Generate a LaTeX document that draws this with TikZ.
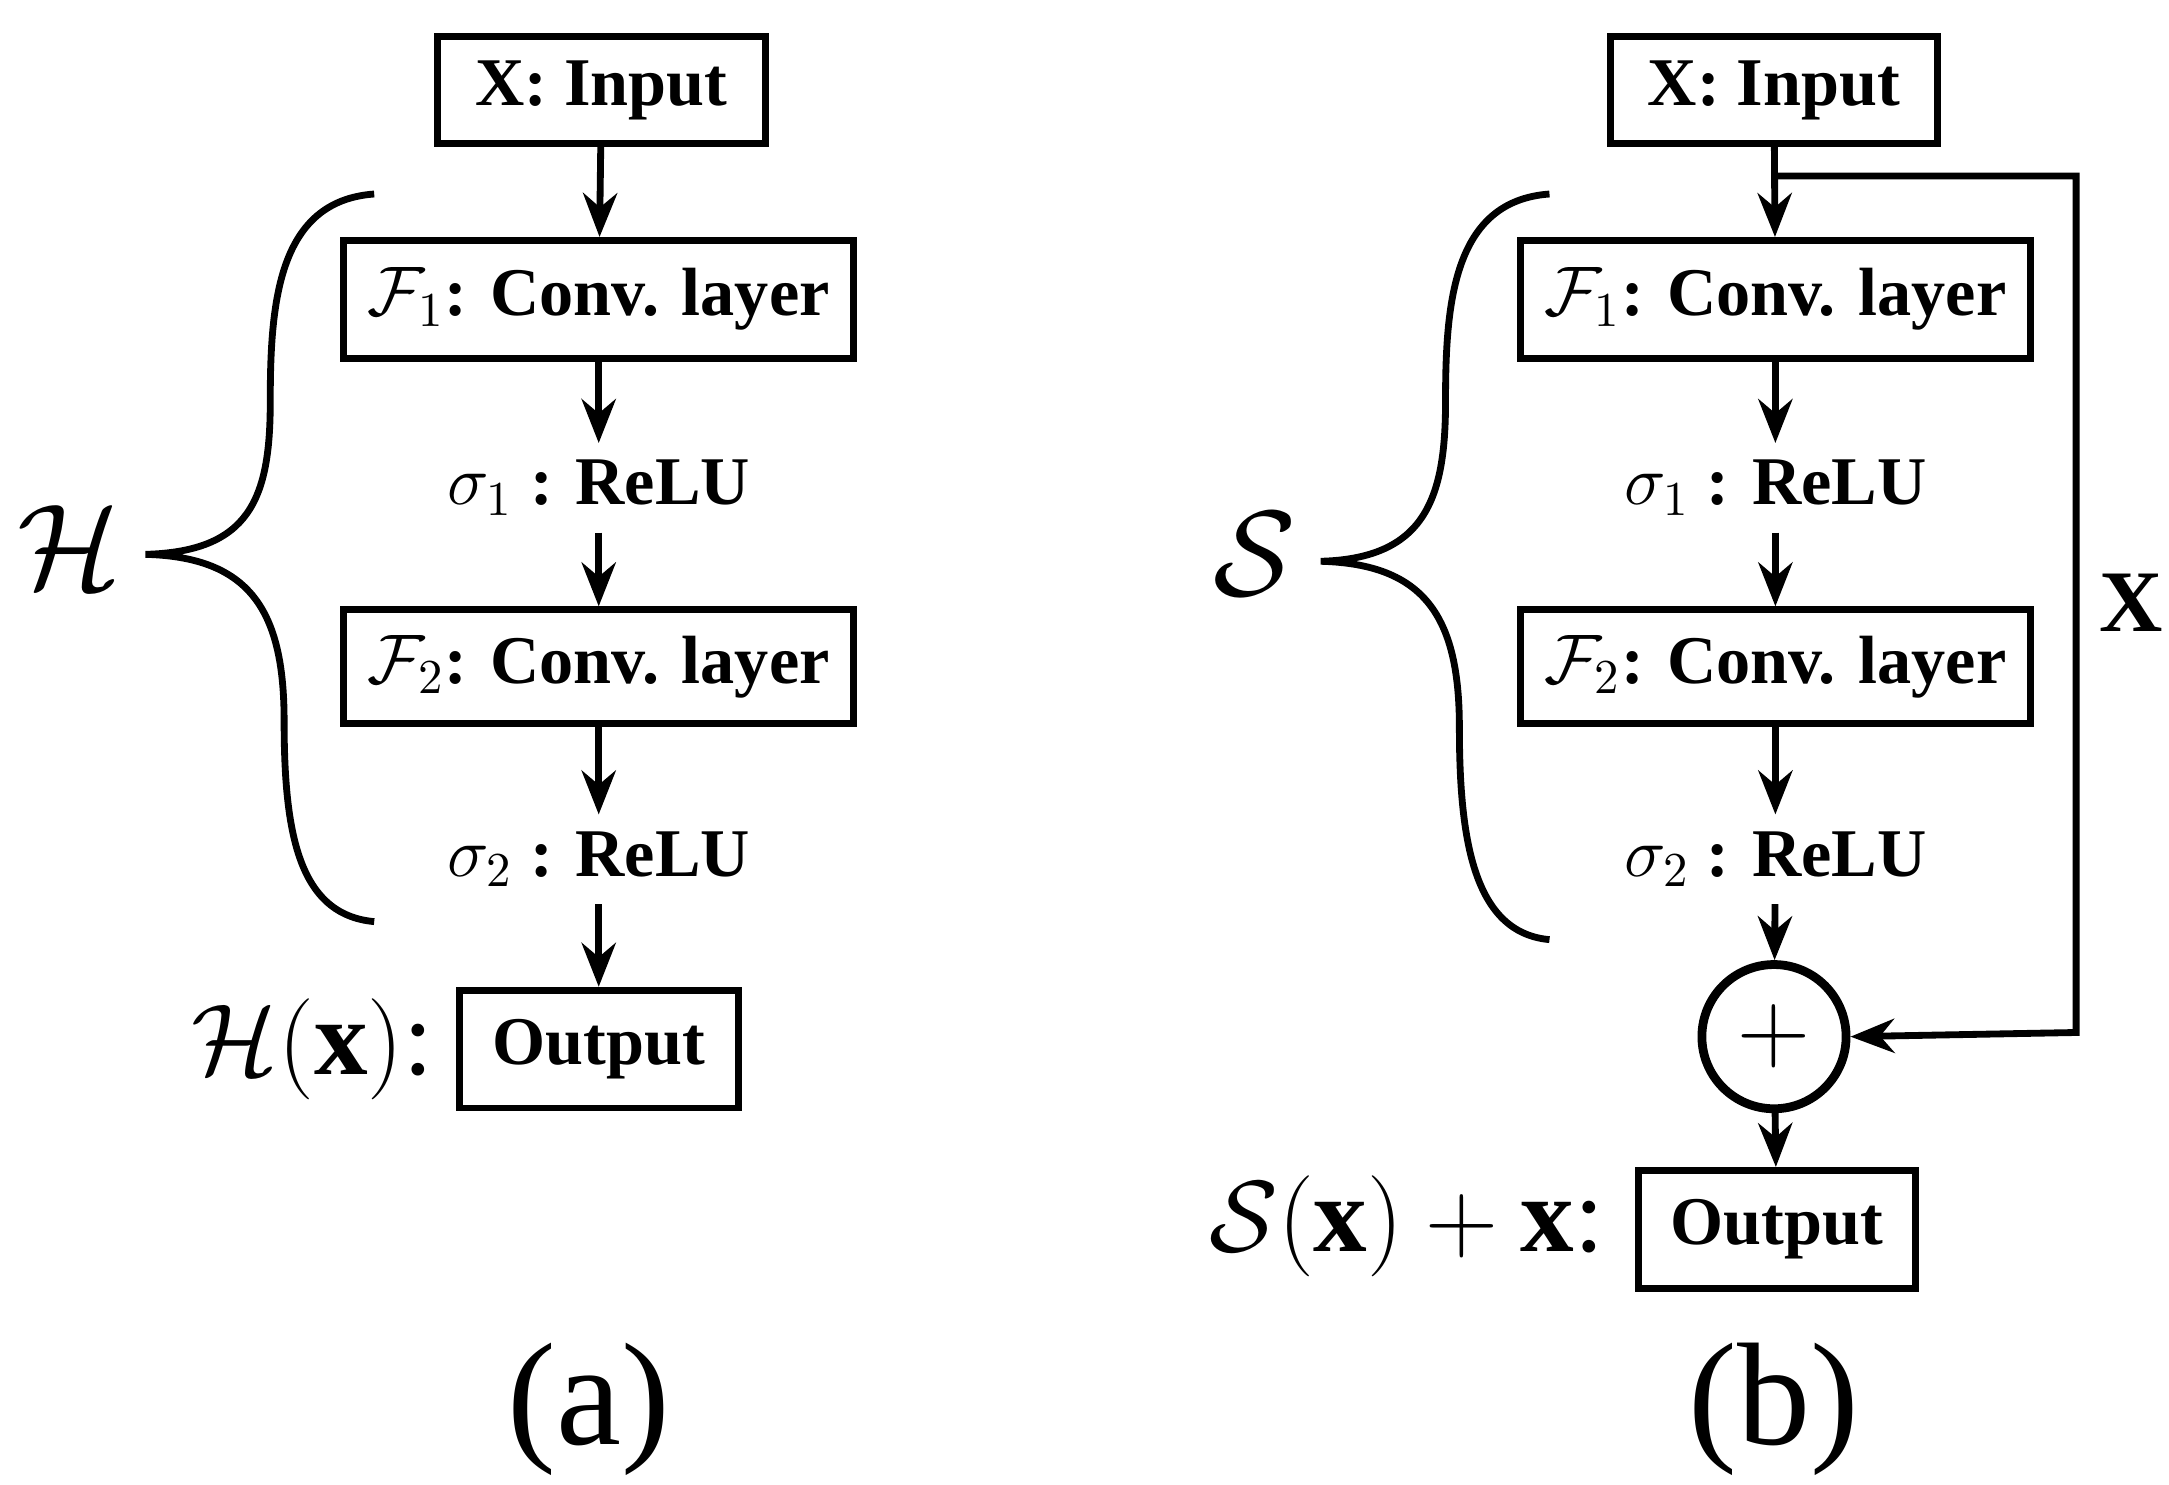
\documentclass[tikz,border=0pt]{standalone}
\usepackage{fontspec}
\setmainfont{Liberation Serif}
\usetikzlibrary{arrows.meta}
\begin{document}
\begin{tikzpicture}[x=0.01cm,y=-0.01cm,
  box/.style={draw,line width=1.4pt,inner sep=0pt,font=\fontsize{14}{16}\selectfont\bfseries},
  lbl/.style={font=\fontsize{14}{16}\selectfont\bfseries},
  arr/.style={-{Stealth[length=9pt,width=7pt]},line width=1.4pt},
  brace/.style={line width=1.4pt},
  subcap/.style={font=\fontsize{30}{34}\selectfont}]
\useasboundingbox (0,0) rectangle (1565,1071);
% (a)
\node[box,minimum width=2.36cm,minimum height=0.77cm] (ain) at (434,65) {X: Input};
\node[box,minimum width=3.68cm,minimum height=0.85cm] (ac1) at (432,216) {$\mathcal{F}_1$: Conv. layer};
\node[lbl] (as1) at (432,352) {$\sigma_1$ : ReLU};
\node[box,minimum width=3.68cm,minimum height=0.82cm] (ac2) at (432,481) {$\mathcal{F}_2$: Conv. layer};
\node[lbl] (as2) at (432,620) {$\sigma_2$ : ReLU};
\node[box,minimum width=2.01cm,minimum height=0.85cm] (aout) at (432,757) {Output};
\node[font=\fontsize{22}{24}\selectfont,anchor=east] (ah) at (325,757) {$\mathcal{H}(\mathbf{x})$:};
\node[font=\fontsize{24}{26}\selectfont] (aH) at (50,395) {$\mathcal{H}$};
\node[subcap] (acap) at (425,1017) {(a)};
\draw[arr] (ain) -- (ac1);
\draw[arr] (ac1) -- (as1);
\draw[arr] (as1) -- (ac2);
\draw[arr] (ac2) -- (as2);
\draw[arr] (as2) -- (aout);
\draw[brace] (270,140) .. controls (200,145) and (195,220) .. (195,290)
  .. controls (195,360) and (180,398) .. (105,400)
  .. controls (180,402) and (205,440) .. (205,520)
  .. controls (205,600) and (215,660) .. (270,665);
% (b)
\node[box,minimum width=2.36cm,minimum height=0.77cm] (bin) at (1280,65) {X: Input};
\node[box,minimum width=3.68cm,minimum height=0.85cm] (bc1) at (1281,216) {$\mathcal{F}_1$: Conv. layer};
\node[lbl] (bs1) at (1281,352) {$\sigma_1$ : ReLU};
\node[box,minimum width=3.68cm,minimum height=0.82cm] (bc2) at (1281,481) {$\mathcal{F}_2$: Conv. layer};
\node[lbl] (bs2) at (1281,620) {$\sigma_2$ : ReLU};
\node[draw,circle,line width=1.8pt,minimum size=1.04cm,inner sep=0pt,font=\fontsize{22}{24}\selectfont] (plus) at (1280,748) {$+$};
\node[box,minimum width=2.0cm,minimum height=0.85cm] (bout) at (1282,887) {Output};
\node[font=\fontsize{22}{24}\selectfont,anchor=east] (bs) at (1170,885) {$\mathcal{S}(\mathbf{x})+\mathbf{x}$:};
\node[font=\fontsize{24}{26}\selectfont] (bS) at (905,400) {$\mathcal{S}$};
\node[font=\fontsize{18}{20}\selectfont\bfseries] (bx) at (1538,435) {X};
\node[subcap] (bcap) at (1280,1017) {(b)};
\coordinate (sk1) at (1280,127);
\coordinate (sk2) at (1498,127);
\coordinate (sk3) at (1498,745);
\draw[arr] (bin) -- (bc1);
\draw[arr] (bc1) -- (bs1);
\draw[arr] (bs1) -- (bc2);
\draw[arr] (bc2) -- (bs2);
\draw[arr] (bs2) -- (plus);
\draw[arr] (plus) -- (bout);
\draw[arr] (sk1) -- (sk2) -- (sk3) -- (plus.east);
\draw[brace] (1118,140) .. controls (1048,145) and (1043,220) .. (1043,290)
  .. controls (1043,360) and (1028,403) .. (953,405)
  .. controls (1028,407) and (1053,445) .. (1053,525)
  .. controls (1053,605) and (1063,673) .. (1118,678);
\end{tikzpicture}
\end{document}
